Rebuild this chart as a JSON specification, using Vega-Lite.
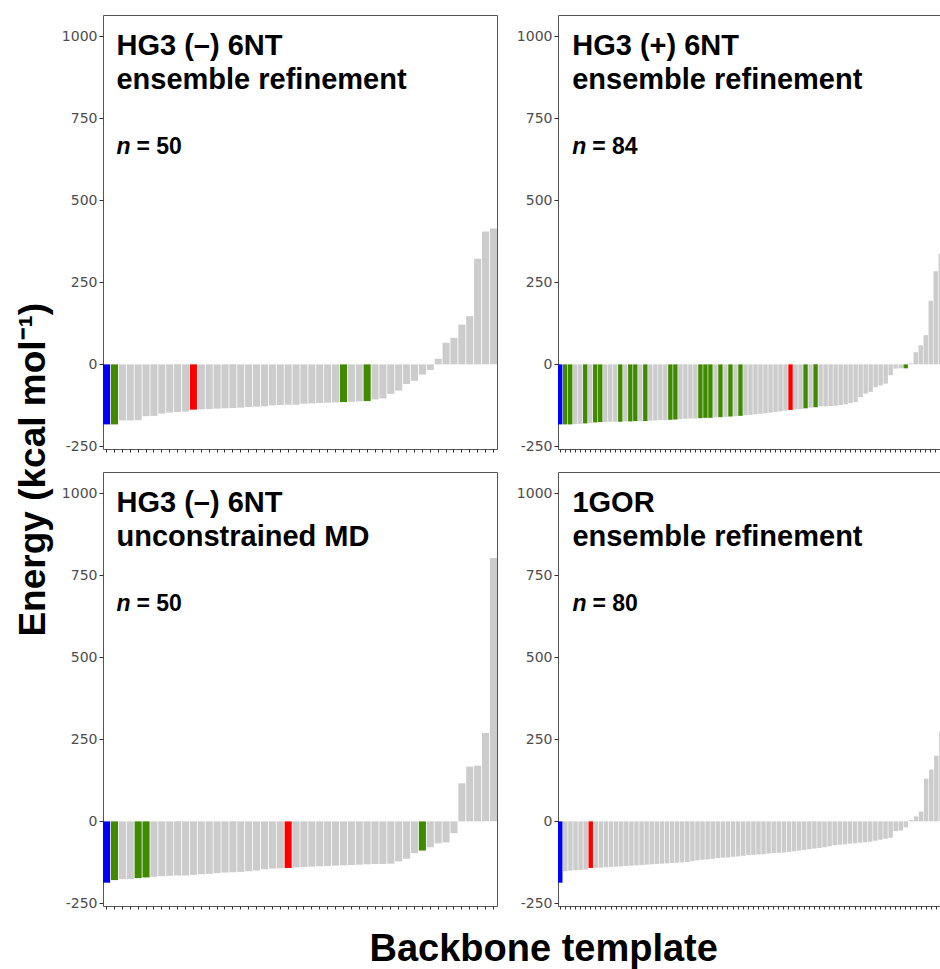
{
  "$schema": "https://vega.github.io/schema/vega-lite/v6.json",
  "padding": {"left": 14, "top": 14, "right": 0, "bottom": 0},
  "background": "white",
  "config": {
    "view": {"stroke": "#555555", "strokeWidth": 1},
    "axisY": {
      "labelExpr": "datum.value < 0 ? '-' + abs(datum.value) : '' + datum.value",
      "labelFont": "DejaVu Sans", "labelFontSize": 14, "labelColor": "#4d4d4d",
      "tickColor": "#333333", "tickSize": 4, "labelPadding": 2,
      "domain": false, "grid": false, "title": null
    },
    "axisX": {
      "labels": false, "title": null, "domain": false, "grid": false,
      "tickColor": "#333333", "tickSize": 3, "ticks": true
    }
  },
  "datasets": {
    "p1": [
      {"i":0,"e":-183,"c":"lowest"},{"i":1,"e":-183,"c":"selected"},{"i":2,"e":-171,"c":"other"},{"i":3,"e":-171,"c":"other"},{"i":4,"e":-170,"c":"other"},
      {"i":5,"e":-158,"c":"other"},{"i":6,"e":-157,"c":"other"},{"i":7,"e":-150,"c":"other"},{"i":8,"e":-147,"c":"other"},{"i":9,"e":-145,"c":"other"},
      {"i":10,"e":-144,"c":"other"},{"i":11,"e":-138,"c":"reference"},{"i":12,"e":-137,"c":"other"},{"i":13,"e":-136,"c":"other"},{"i":14,"e":-135,"c":"other"},
      {"i":15,"e":-134,"c":"other"},{"i":16,"e":-133,"c":"other"},{"i":17,"e":-132,"c":"other"},{"i":18,"e":-130,"c":"other"},{"i":19,"e":-129,"c":"other"},
      {"i":20,"e":-128,"c":"other"},{"i":21,"e":-125,"c":"other"},{"i":22,"e":-124,"c":"other"},{"i":23,"e":-123,"c":"other"},{"i":24,"e":-123,"c":"other"},
      {"i":25,"e":-120,"c":"other"},{"i":26,"e":-119,"c":"other"},{"i":27,"e":-118,"c":"other"},{"i":28,"e":-117,"c":"other"},{"i":29,"e":-116,"c":"other"},
      {"i":30,"e":-115,"c":"selected"},{"i":31,"e":-114,"c":"other"},{"i":32,"e":-113,"c":"other"},{"i":33,"e":-112,"c":"selected"},{"i":34,"e":-107,"c":"other"},
      {"i":35,"e":-104,"c":"other"},{"i":36,"e":-90,"c":"other"},{"i":37,"e":-80,"c":"other"},{"i":38,"e":-60,"c":"other"},{"i":39,"e":-50,"c":"other"},
      {"i":40,"e":-31,"c":"other"},{"i":41,"e":-17,"c":"other"},{"i":42,"e":17,"c":"other"},{"i":43,"e":66,"c":"other"},{"i":44,"e":81,"c":"other"},
      {"i":45,"e":121,"c":"other"},{"i":46,"e":147,"c":"other"},{"i":47,"e":322,"c":"other"},{"i":48,"e":405,"c":"other"},{"i":49,"e":414,"c":"other"}
    ],
    "p2": [
      {"i":0,"e":-183,"c":"lowest"},{"i":1,"e":-183,"c":"selected"},{"i":2,"e":-183,"c":"selected"},{"i":3,"e":-182,"c":"other"},{"i":4,"e":-181,"c":"other"},
      {"i":5,"e":-180,"c":"selected"},{"i":6,"e":-179,"c":"other"},{"i":7,"e":-177,"c":"selected"},{"i":8,"e":-176,"c":"selected"},{"i":9,"e":-176,"c":"other"},
      {"i":10,"e":-175,"c":"other"},{"i":11,"e":-175,"c":"other"},{"i":12,"e":-175,"c":"selected"},{"i":13,"e":-174,"c":"other"},{"i":14,"e":-174,"c":"selected"},
      {"i":15,"e":-173,"c":"selected"},{"i":16,"e":-173,"c":"other"},{"i":17,"e":-173,"c":"selected"},{"i":18,"e":-172,"c":"other"},{"i":19,"e":-171,"c":"other"},
      {"i":20,"e":-170,"c":"other"},{"i":21,"e":-170,"c":"other"},{"i":22,"e":-169,"c":"selected"},{"i":23,"e":-168,"c":"selected"},{"i":24,"e":-167,"c":"other"},
      {"i":25,"e":-166,"c":"other"},{"i":26,"e":-165,"c":"other"},{"i":27,"e":-165,"c":"other"},{"i":28,"e":-164,"c":"selected"},{"i":29,"e":-163,"c":"selected"},
      {"i":30,"e":-163,"c":"selected"},{"i":31,"e":-162,"c":"other"},{"i":32,"e":-161,"c":"selected"},{"i":33,"e":-160,"c":"other"},{"i":34,"e":-159,"c":"selected"},
      {"i":35,"e":-158,"c":"other"},{"i":36,"e":-157,"c":"selected"},{"i":37,"e":-155,"c":"other"},{"i":38,"e":-154,"c":"other"},{"i":39,"e":-152,"c":"other"},
      {"i":40,"e":-151,"c":"other"},{"i":41,"e":-149,"c":"other"},{"i":42,"e":-147,"c":"other"},{"i":43,"e":-145,"c":"other"},{"i":44,"e":-143,"c":"other"},
      {"i":45,"e":-141,"c":"other"},{"i":46,"e":-139,"c":"reference"},{"i":47,"e":-137,"c":"other"},{"i":48,"e":-136,"c":"other"},{"i":49,"e":-134,"c":"selected"},
      {"i":50,"e":-132,"c":"other"},{"i":51,"e":-131,"c":"selected"},{"i":52,"e":-128,"c":"other"},{"i":53,"e":-128,"c":"other"},{"i":54,"e":-127,"c":"other"},
      {"i":55,"e":-126,"c":"other"},{"i":56,"e":-124,"c":"other"},{"i":57,"e":-122,"c":"other"},{"i":58,"e":-118,"c":"other"},{"i":59,"e":-115,"c":"other"},
      {"i":60,"e":-100,"c":"other"},{"i":61,"e":-89,"c":"other"},{"i":62,"e":-84,"c":"other"},{"i":63,"e":-69,"c":"other"},{"i":64,"e":-64,"c":"other"},
      {"i":65,"e":-59,"c":"other"},{"i":66,"e":-33,"c":"other"},{"i":67,"e":-13,"c":"other"},{"i":68,"e":-12,"c":"other"},{"i":69,"e":-12,"c":"selected"},
      {"i":70,"e":3,"c":"other"},{"i":71,"e":37,"c":"other"},{"i":72,"e":58,"c":"other"},{"i":73,"e":89,"c":"other"},{"i":74,"e":194,"c":"other"},
      {"i":75,"e":284,"c":"other"},{"i":76,"e":338,"c":"other"},{"i":77,"e":380,"c":"other"},{"i":78,"e":420,"c":"other"},{"i":79,"e":460,"c":"other"},
      {"i":80,"e":500,"c":"other"},{"i":81,"e":540,"c":"other"},{"i":82,"e":580,"c":"other"},{"i":83,"e":620,"c":"other"}
    ],
    "p3": [
      {"i":0,"e":-187,"c":"lowest"},{"i":1,"e":-179,"c":"selected"},{"i":2,"e":-176,"c":"other"},{"i":3,"e":-176,"c":"other"},{"i":4,"e":-173,"c":"selected"},
      {"i":5,"e":-171,"c":"selected"},{"i":6,"e":-169,"c":"other"},{"i":7,"e":-167,"c":"other"},{"i":8,"e":-166,"c":"other"},{"i":9,"e":-165,"c":"other"},
      {"i":10,"e":-165,"c":"other"},{"i":11,"e":-163,"c":"other"},{"i":12,"e":-161,"c":"other"},{"i":13,"e":-160,"c":"other"},{"i":14,"e":-158,"c":"other"},
      {"i":15,"e":-156,"c":"other"},{"i":16,"e":-155,"c":"other"},{"i":17,"e":-154,"c":"other"},{"i":18,"e":-152,"c":"other"},{"i":19,"e":-150,"c":"other"},
      {"i":20,"e":-146,"c":"other"},{"i":21,"e":-144,"c":"other"},{"i":22,"e":-143,"c":"other"},{"i":23,"e":-142,"c":"reference"},{"i":24,"e":-140,"c":"other"},
      {"i":25,"e":-139,"c":"other"},{"i":26,"e":-138,"c":"other"},{"i":27,"e":-137,"c":"other"},{"i":28,"e":-136,"c":"other"},{"i":29,"e":-135,"c":"other"},
      {"i":30,"e":-134,"c":"other"},{"i":31,"e":-133,"c":"other"},{"i":32,"e":-132,"c":"other"},{"i":33,"e":-131,"c":"other"},{"i":34,"e":-130,"c":"other"},
      {"i":35,"e":-130,"c":"other"},{"i":36,"e":-129,"c":"other"},{"i":37,"e":-122,"c":"other"},{"i":38,"e":-114,"c":"other"},{"i":39,"e":-97,"c":"other"},
      {"i":40,"e":-89,"c":"selected"},{"i":41,"e":-79,"c":"other"},{"i":42,"e":-67,"c":"other"},{"i":43,"e":-64,"c":"other"},{"i":44,"e":-36,"c":"other"},
      {"i":45,"e":116,"c":"other"},{"i":46,"e":167,"c":"other"},{"i":47,"e":170,"c":"other"},{"i":48,"e":269,"c":"other"},{"i":49,"e":803,"c":"other"}
    ],
    "p4": [
      {"i":0,"e":-187,"c":"lowest"},{"i":1,"e":-152,"c":"other"},{"i":2,"e":-150,"c":"other"},{"i":3,"e":-149,"c":"other"},{"i":4,"e":-148,"c":"other"},
      {"i":5,"e":-147,"c":"other"},{"i":6,"e":-142,"c":"reference"},{"i":7,"e":-142,"c":"other"},{"i":8,"e":-141,"c":"other"},{"i":9,"e":-140,"c":"other"},
      {"i":10,"e":-139,"c":"other"},{"i":11,"e":-138,"c":"other"},{"i":12,"e":-137,"c":"other"},{"i":13,"e":-136,"c":"other"},{"i":14,"e":-135,"c":"other"},
      {"i":15,"e":-134,"c":"other"},{"i":16,"e":-133,"c":"other"},{"i":17,"e":-132,"c":"other"},{"i":18,"e":-131,"c":"other"},{"i":19,"e":-130,"c":"other"},
      {"i":20,"e":-129,"c":"other"},{"i":21,"e":-128,"c":"other"},{"i":22,"e":-127,"c":"other"},{"i":23,"e":-126,"c":"other"},{"i":24,"e":-125,"c":"other"},
      {"i":25,"e":-124,"c":"other"},{"i":26,"e":-121,"c":"other"},{"i":27,"e":-119,"c":"other"},{"i":28,"e":-117,"c":"other"},{"i":29,"e":-116,"c":"other"},
      {"i":30,"e":-114,"c":"other"},{"i":31,"e":-112,"c":"other"},{"i":32,"e":-111,"c":"other"},{"i":33,"e":-110,"c":"other"},{"i":34,"e":-108,"c":"other"},
      {"i":35,"e":-107,"c":"other"},{"i":36,"e":-105,"c":"other"},{"i":37,"e":-103,"c":"other"},{"i":38,"e":-102,"c":"other"},{"i":39,"e":-101,"c":"other"},
      {"i":40,"e":-100,"c":"other"},{"i":41,"e":-98,"c":"other"},{"i":42,"e":-97,"c":"other"},{"i":43,"e":-96,"c":"other"},{"i":44,"e":-95,"c":"other"},
      {"i":45,"e":-93,"c":"other"},{"i":46,"e":-91,"c":"other"},{"i":47,"e":-89,"c":"other"},{"i":48,"e":-87,"c":"other"},{"i":49,"e":-85,"c":"other"},
      {"i":50,"e":-83,"c":"other"},{"i":51,"e":-81,"c":"other"},{"i":52,"e":-79,"c":"other"},{"i":53,"e":-76,"c":"other"},{"i":54,"e":-73,"c":"other"},
      {"i":55,"e":-71,"c":"other"},{"i":56,"e":-70,"c":"other"},{"i":57,"e":-68,"c":"other"},{"i":58,"e":-67,"c":"other"},{"i":59,"e":-65,"c":"other"},
      {"i":60,"e":-64,"c":"other"},{"i":61,"e":-62,"c":"other"},{"i":62,"e":-59,"c":"other"},{"i":63,"e":-56,"c":"other"},{"i":64,"e":-53,"c":"other"},
      {"i":65,"e":-50,"c":"other"},{"i":66,"e":-30,"c":"other"},{"i":67,"e":-28,"c":"other"},{"i":68,"e":-18,"c":"other"},{"i":69,"e":4,"c":"other"},
      {"i":70,"e":15,"c":"other"},{"i":71,"e":30,"c":"other"},{"i":72,"e":130,"c":"other"},{"i":73,"e":158,"c":"other"},{"i":74,"e":200,"c":"other"},
      {"i":75,"e":274,"c":"other"},{"i":76,"e":310,"c":"other"},{"i":77,"e":350,"c":"other"},{"i":78,"e":390,"c":"other"},{"i":79,"e":430,"c":"other"}
    ],
    "h1": [{"a":"HG3 (–) 6NT","b":"ensemble refinement","n":"n","m":"= 50"}],
    "h2": [{"a":"HG3 (+) 6NT","b":"ensemble refinement","n":"n","m":"= 84"}],
    "h3": [{"a":"HG3 (–) 6NT","b":"unconstrained MD","n":"n","m":"= 50"}],
    "h4": [{"a":"1GOR","b":"ensemble refinement","n":"n","m":"= 80"}]
  },
  "title": {
    "text": "Backbone template", "orient": "bottom", "anchor": "middle", "dx": 47,
    "font": "Liberation Sans", "fontSize": 38, "fontWeight": "bold", "color": "black", "offset": 20
  },
  "vconcat": [
    {
      "title": {
        "text": "Energy (kcal mol⁻¹)", "orient": "left", "anchor": "middle", "dx": -7,
        "font": "Liberation Sans", "fontSize": 37, "fontWeight": "bold", "color": "black", "offset": 8
      },
      "spacing": 17,
      "vconcat": [
        {
          "spacing": 17,
          "hconcat": [
            {
              "width": 394, "height": 434,
              "layer": [
                {
                  "data": {"name": "p1"},
                  "mark": {"type": "bar"},
                  "encoding": {
                    "x": {"field": "i", "type": "ordinal", "scale": {"paddingInner": 0.1, "paddingOuter": 0}},
                    "y": {"field": "e", "type": "quantitative", "scale": {"domain": [-258, 1065], "nice": false, "zero": false}, "axis": {"values": [-250, 0, 250, 500, 750, 1000]}},
                    "color": {"field": "c", "type": "nominal", "legend": null, "scale": {"domain": ["other", "lowest", "selected", "reference"], "range": ["#cccccc", "#0000ff", "#3f8a00", "#ff0000"]}}
                  }
                },
                {"data": {"name": "h1"}, "mark": {"type": "text", "align": "left", "baseline": "alphabetic", "font": "Liberation Sans", "fontSize": 29, "fontWeight": "bold", "color": "black", "dx": 2},
                 "encoding": {"text": {"field": "a"}, "x": {"datum": 1, "type": "ordinal"}, "y": {"datum": 943}}},
                {"data": {"name": "h1"}, "mark": {"type": "text", "align": "left", "baseline": "alphabetic", "font": "Liberation Sans", "fontSize": 29, "fontWeight": "bold", "color": "black", "dx": 2},
                 "encoding": {"text": {"field": "b"}, "x": {"datum": 1, "type": "ordinal"}, "y": {"datum": 839}}},
                {"data": {"name": "h1"}, "mark": {"type": "text", "align": "left", "baseline": "alphabetic", "font": "Liberation Sans", "fontSize": 23, "fontWeight": "bold", "fontStyle": "italic", "color": "black", "dx": 2},
                 "encoding": {"text": {"field": "n"}, "x": {"datum": 1, "type": "ordinal"}, "y": {"datum": 641}}},
                {"data": {"name": "h1"}, "mark": {"type": "text", "align": "left", "baseline": "alphabetic", "font": "Liberation Sans", "fontSize": 23, "fontWeight": "bold", "color": "black", "dx": 22},
                 "encoding": {"text": {"field": "m"}, "x": {"datum": 1, "type": "ordinal"}, "y": {"datum": 641}}}
              ]
            },
            {
              "width": 420, "height": 434,
              "layer": [
                {
                  "data": {"name": "p2"},
                  "mark": {"type": "bar"},
                  "encoding": {
                    "x": {"field": "i", "type": "ordinal", "scale": {"paddingInner": 0.12, "paddingOuter": 0}},
                    "y": {"field": "e", "type": "quantitative", "scale": {"domain": [-258, 1065], "nice": false, "zero": false}, "axis": {"values": [-250, 0, 250, 500, 750, 1000]}},
                    "color": {"field": "c", "type": "nominal", "legend": null, "scale": {"domain": ["other", "lowest", "selected", "reference"], "range": ["#cccccc", "#0000ff", "#3f8a00", "#ff0000"]}}
                  }
                },
                {"data": {"name": "h2"}, "mark": {"type": "text", "align": "left", "baseline": "alphabetic", "font": "Liberation Sans", "fontSize": 29, "fontWeight": "bold", "color": "black", "dx": 2},
                 "encoding": {"text": {"field": "a"}, "x": {"datum": 2, "type": "ordinal"}, "y": {"datum": 943}}},
                {"data": {"name": "h2"}, "mark": {"type": "text", "align": "left", "baseline": "alphabetic", "font": "Liberation Sans", "fontSize": 29, "fontWeight": "bold", "color": "black", "dx": 2},
                 "encoding": {"text": {"field": "b"}, "x": {"datum": 2, "type": "ordinal"}, "y": {"datum": 839}}},
                {"data": {"name": "h2"}, "mark": {"type": "text", "align": "left", "baseline": "alphabetic", "font": "Liberation Sans", "fontSize": 23, "fontWeight": "bold", "fontStyle": "italic", "color": "black", "dx": 2},
                 "encoding": {"text": {"field": "n"}, "x": {"datum": 2, "type": "ordinal"}, "y": {"datum": 641}}},
                {"data": {"name": "h2"}, "mark": {"type": "text", "align": "left", "baseline": "alphabetic", "font": "Liberation Sans", "fontSize": 23, "fontWeight": "bold", "color": "black", "dx": 22},
                 "encoding": {"text": {"field": "m"}, "x": {"datum": 2, "type": "ordinal"}, "y": {"datum": 641}}}
              ]
            }
          ]
        },
        {
          "spacing": 17,
          "hconcat": [
            {
              "width": 394, "height": 434,
              "layer": [
                {
                  "data": {"name": "p3"},
                  "mark": {"type": "bar"},
                  "encoding": {
                    "x": {"field": "i", "type": "ordinal", "scale": {"paddingInner": 0.1, "paddingOuter": 0}},
                    "y": {"field": "e", "type": "quantitative", "scale": {"domain": [-258, 1065], "nice": false, "zero": false}, "axis": {"values": [-250, 0, 250, 500, 750, 1000]}},
                    "color": {"field": "c", "type": "nominal", "legend": null, "scale": {"domain": ["other", "lowest", "selected", "reference"], "range": ["#cccccc", "#0000ff", "#3f8a00", "#ff0000"]}}
                  }
                },
                {"data": {"name": "h3"}, "mark": {"type": "text", "align": "left", "baseline": "alphabetic", "font": "Liberation Sans", "fontSize": 29, "fontWeight": "bold", "color": "black", "dx": 2},
                 "encoding": {"text": {"field": "a"}, "x": {"datum": 1, "type": "ordinal"}, "y": {"datum": 943}}},
                {"data": {"name": "h3"}, "mark": {"type": "text", "align": "left", "baseline": "alphabetic", "font": "Liberation Sans", "fontSize": 29, "fontWeight": "bold", "color": "black", "dx": 2},
                 "encoding": {"text": {"field": "b"}, "x": {"datum": 1, "type": "ordinal"}, "y": {"datum": 839}}},
                {"data": {"name": "h3"}, "mark": {"type": "text", "align": "left", "baseline": "alphabetic", "font": "Liberation Sans", "fontSize": 23, "fontWeight": "bold", "fontStyle": "italic", "color": "black", "dx": 2},
                 "encoding": {"text": {"field": "n"}, "x": {"datum": 1, "type": "ordinal"}, "y": {"datum": 641}}},
                {"data": {"name": "h3"}, "mark": {"type": "text", "align": "left", "baseline": "alphabetic", "font": "Liberation Sans", "fontSize": 23, "fontWeight": "bold", "color": "black", "dx": 22},
                 "encoding": {"text": {"field": "m"}, "x": {"datum": 1, "type": "ordinal"}, "y": {"datum": 641}}}
              ]
            },
            {
              "width": 406, "height": 434,
              "layer": [
                {
                  "data": {"name": "p4"},
                  "mark": {"type": "bar"},
                  "encoding": {
                    "x": {"field": "i", "type": "ordinal", "scale": {"paddingInner": 0.12, "paddingOuter": 0}},
                    "y": {"field": "e", "type": "quantitative", "scale": {"domain": [-258, 1065], "nice": false, "zero": false}, "axis": {"values": [-250, 0, 250, 500, 750, 1000]}},
                    "color": {"field": "c", "type": "nominal", "legend": null, "scale": {"domain": ["other", "lowest", "selected", "reference"], "range": ["#cccccc", "#0000ff", "#3f8a00", "#ff0000"]}}
                  }
                },
                {"data": {"name": "h4"}, "mark": {"type": "text", "align": "left", "baseline": "alphabetic", "font": "Liberation Sans", "fontSize": 29, "fontWeight": "bold", "color": "black", "dx": 2},
                 "encoding": {"text": {"field": "a"}, "x": {"datum": 2, "type": "ordinal"}, "y": {"datum": 943}}},
                {"data": {"name": "h4"}, "mark": {"type": "text", "align": "left", "baseline": "alphabetic", "font": "Liberation Sans", "fontSize": 29, "fontWeight": "bold", "color": "black", "dx": 2},
                 "encoding": {"text": {"field": "b"}, "x": {"datum": 2, "type": "ordinal"}, "y": {"datum": 839}}},
                {"data": {"name": "h4"}, "mark": {"type": "text", "align": "left", "baseline": "alphabetic", "font": "Liberation Sans", "fontSize": 23, "fontWeight": "bold", "fontStyle": "italic", "color": "black", "dx": 2},
                 "encoding": {"text": {"field": "n"}, "x": {"datum": 2, "type": "ordinal"}, "y": {"datum": 641}}},
                {"data": {"name": "h4"}, "mark": {"type": "text", "align": "left", "baseline": "alphabetic", "font": "Liberation Sans", "fontSize": 23, "fontWeight": "bold", "color": "black", "dx": 22},
                 "encoding": {"text": {"field": "m"}, "x": {"datum": 2, "type": "ordinal"}, "y": {"datum": 641}}}
              ]
            }
          ]
        }
      ]
    }
  ]
}
